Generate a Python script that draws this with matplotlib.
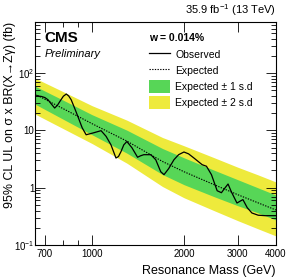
#!/usr/bin/env python3
"""
95% CL upper limit on sigma x BR(X -> Z gamma), narrow width (w = 0.014%)
"""

import matplotlib
matplotlib.use('Agg')
import matplotlib.pyplot as plt
from matplotlib.lines import Line2D
from matplotlib.patches import Patch
from matplotlib.ticker import FixedLocator, FixedFormatter, LogLocator, NullFormatter

plt.rcParams['font.family'] = ['Liberation Sans', 'DejaVu Sans']
plt.rcParams['mathtext.fontset'] = 'custom'
plt.rcParams['mathtext.rm'] = 'Liberation Sans'

# Expected limit and bands (fb)
exp_mass = [650, 800, 1000, 1300, 1700, 2000, 2500, 3000, 3500, 4000]
exp_limit = [43.0, 24.3, 13.1, 6.5, 2.87, 1.90, 1.14, 0.755, 0.543, 0.408]
exp_p2 = [81.8, 48.1, 27.0, 15.1, 7.53, 5.40, 3.37, 2.28, 1.67, 1.26]
exp_p1 = [59.3, 34.2, 18.8, 10.1, 4.84, 3.33, 2.04, 1.38, 0.992, 0.745]
exp_m1 = [28.8, 15.9, 8.4, 4.01, 1.70, 1.13, 0.703, 0.485, 0.363, 0.273]
exp_m2 = [19.3, 10.9, 5.9, 2.68, 1.05, 0.668, 0.401, 0.266, 0.191, 0.144]

# Observed limit (fb)
obs_mass = [655, 682, 700, 717, 735, 754, 770, 787, 805, 823, 838, 854, 875, 898,
            928, 956, 1005, 1070, 1111, 1153, 1197, 1220, 1243, 1270, 1300, 1350,
            1409, 1440, 1477, 1557, 1616, 1678, 1720, 1781, 1854, 1920, 1999, 2070,
            2149, 2294, 2369, 2460, 2568, 2652, 2720, 2788, 2858, 2982, 3050, 3119,
            3222, 3338, 3499, 3688, 4000]
obs_limit = [40.3, 39.2, 37.5, 34.3, 29.0, 24.6, 27.5, 33.0, 39.5, 43.2, 40.0, 34.3,
             25.0, 17.6, 11.1, 8.4, 9.0, 9.9, 7.9, 5.6, 3.3, 3.5, 4.25, 5.6, 6.4,
             5.0, 3.4, 3.6, 3.77, 3.77, 3.08, 1.9, 1.69, 2.15, 3.08, 3.77, 4.2, 3.9,
             3.34, 2.52, 2.37, 1.69, 0.886, 0.818, 0.98, 1.16, 0.85, 0.54, 0.58,
             0.62, 0.448, 0.362, 0.331, 0.325, 0.325]

x_ticks = [700, 1000, 2000, 3000, 4000]
x_tick_labels = ['700', '1000', '2000', '3000', '4000']
y_ticks = [0.1, 1, 10, 100]
y_tick_labels = ['$10^{-1}$', '1', '10', '$10^{2}$']

fig = plt.figure(figsize=(2.88, 2.79), dpi=100)
ax = fig.add_axes([0.1215, 0.1219, 0.8365, 0.7991])

ax.fill_between(exp_mass, exp_m2, exp_p2, color='#eeea3c', linewidth=0)
ax.fill_between(exp_mass, exp_m1, exp_p1, color='#57d657', linewidth=0)
ax.plot(exp_mass, exp_limit, color='black', linestyle=(0, (1.2, 1.2)), linewidth=0.8)
ax.plot(obs_mass, obs_limit, color='black', linewidth=0.9)

ax.set_xscale('log')
ax.set_yscale('log')
ax.set_xlim(650, 4000)
ax.set_ylim(0.1, 780)

ax.xaxis.set_major_locator(FixedLocator(x_ticks))
ax.xaxis.set_major_formatter(FixedFormatter(x_tick_labels))
ax.xaxis.set_minor_locator(LogLocator(base=10, subs=range(1, 10)))
ax.xaxis.set_minor_formatter(NullFormatter())
ax.yaxis.set_major_locator(FixedLocator(y_ticks))
ax.yaxis.set_major_formatter(FixedFormatter(y_tick_labels))
ax.yaxis.set_minor_locator(LogLocator(base=10, subs=range(2, 10)))
ax.yaxis.set_minor_formatter(NullFormatter())

ax.tick_params(which='both', direction='in', top=True, right=True, labelsize=7, width=0.6)
ax.tick_params(which='major', length=7)
ax.tick_params(axis='y', which='major', pad=0.5)
ax.tick_params(axis='x', which='major', pad=3)
ax.tick_params(which='minor', length=3.5)
for s in ax.spines.values():
    s.set_linewidth(0.8)

ax.set_xlabel('Resonance Mass (GeV)', fontsize=9, loc='right')
ax.set_ylabel('95% CL UL on σ x BR(X→Zγ) (fb)', fontsize=8.9, loc='top')
ax.yaxis.set_label_coords(-0.08, 1.0)

fig.text(0.958, 0.935, r'35.9 fb$^{-1}$ (13 TeV)', fontsize=8, ha='right', va='bottom')
ax.text(0.04, 0.93, 'CMS', transform=ax.transAxes, fontsize=11, fontweight='bold',
        ha='left', va='center')
ax.text(0.04, 0.855, 'Preliminary', transform=ax.transAxes, fontsize=8, style='italic',
        ha='left', va='center')

handles = [Line2D([], [], color='black', linewidth=0.9),
           Line2D([], [], color='black', linestyle=(0, (1.2, 1.2)), linewidth=0.8),
           Patch(facecolor='#57d657', edgecolor='none'),
           Patch(facecolor='#eeea3c', edgecolor='none')]
labels = ['Observed', 'Expected', 'Expected ± 1 s.d', 'Expected ± 2 s.d']
leg = ax.legend(handles, labels, loc='upper left', bbox_to_anchor=(0.445, 0.985),
                frameon=False, fontsize=7.5, handlelength=2.0, handleheight=1.5,
                labelspacing=0.32, handletextpad=0.45, borderpad=0.2,
                title='w = 0.014%', title_fontproperties={'weight': 'bold', 'size': 7.5})
leg._legend_box.align = 'left'
leg._legend_box.sep = 4

plt.savefig('out.png', dpi=100)
plt.close(fig)
